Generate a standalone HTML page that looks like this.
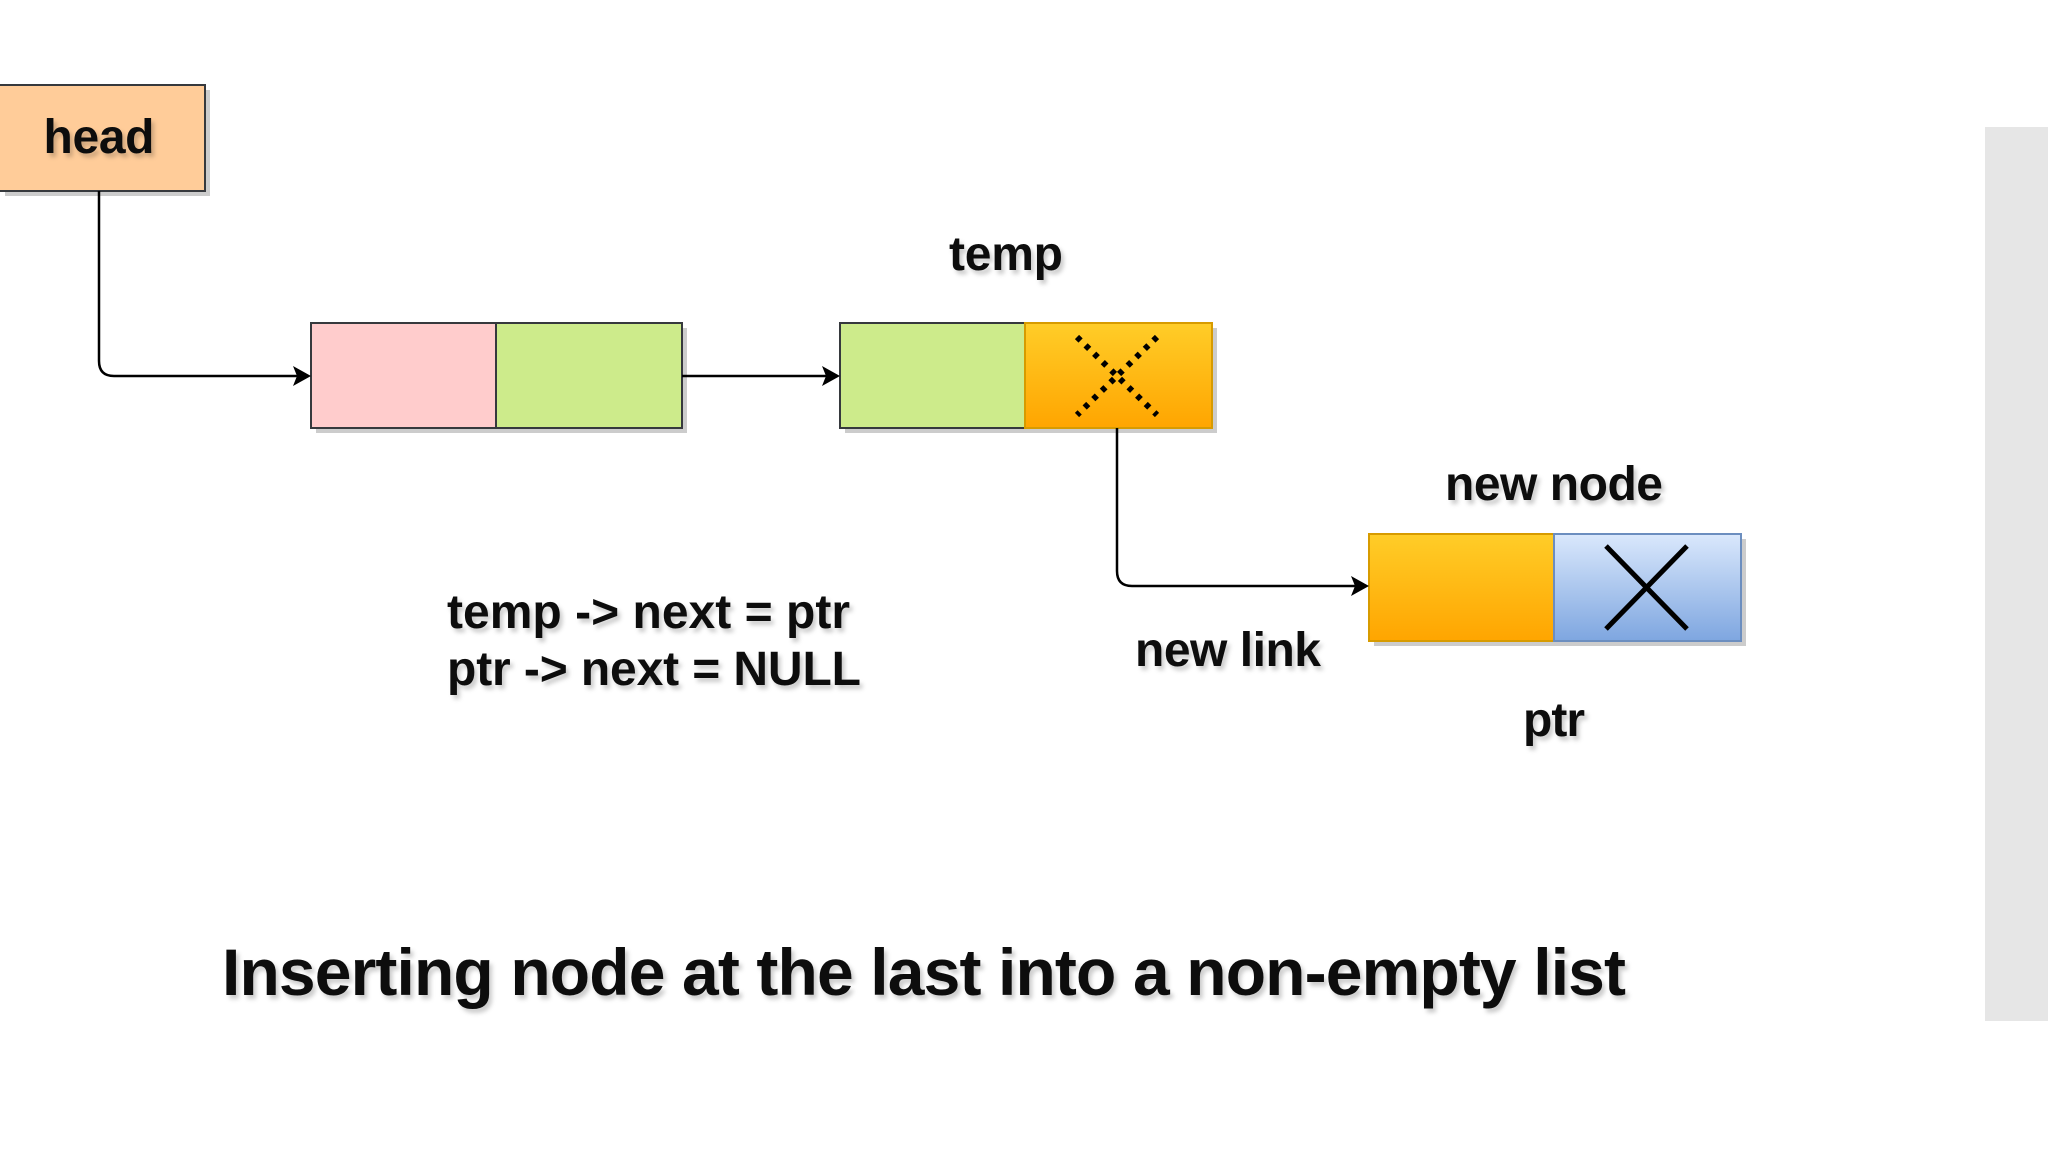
<!DOCTYPE html>
<html><head><meta charset="utf-8"><style>html,body{margin:0;padding:0;background:#fff}svg{display:block}</style></head>
<body>
<svg width="2048" height="1152" viewBox="0 0 2048 1152" xmlns="http://www.w3.org/2000/svg" font-family="Liberation Sans, Arial, sans-serif" font-weight="bold">
<defs>
<linearGradient id="og" x1="0" y1="0" x2="0" y2="1"><stop offset="0" stop-color="#ffcd28"/><stop offset="1" stop-color="#ffa500"/></linearGradient>
<linearGradient id="bg" x1="0" y1="0" x2="0" y2="1"><stop offset="0" stop-color="#dae8fc"/><stop offset="1" stop-color="#7ea6e0"/></linearGradient>
<filter id="ts"><feDropShadow dx="3" dy="4" stdDeviation="2" flood-color="#000" flood-opacity="0.2"/></filter>
</defs>
<rect x="1985" y="127" width="63" height="894" fill="#e6e6e6"/>
<g fill="#000" opacity="0.2">
<rect x="5" y="90" width="205" height="106"/>
<rect x="316" y="328" width="371" height="105"/>
<rect x="845" y="328" width="372" height="105"/>
<rect x="1374" y="539" width="372" height="107"/>
</g>
<rect x="-2" y="85" width="207" height="106" fill="#ffcc99" stroke="#36393d" stroke-width="2"/>
<rect x="311" y="323" width="185" height="105" fill="#ffcccc" stroke="#36393d" stroke-width="2"/>
<rect x="496" y="323" width="186" height="105" fill="#cdeb8b" stroke="#36393d" stroke-width="2"/>
<rect x="840" y="323" width="185" height="105" fill="#cdeb8b" stroke="#36393d" stroke-width="2"/>
<rect x="1025" y="323" width="187" height="105" fill="url(#og)" stroke="#d79b00" stroke-width="2"/>
<rect x="1369" y="534" width="185" height="107" fill="url(#og)" stroke="#d79b00" stroke-width="2"/>
<rect x="1554" y="534" width="187" height="107" fill="url(#bg)" stroke="#6c8ebf" stroke-width="2"/>
<g stroke="#000" stroke-width="6" stroke-dasharray="5 7">
<line x1="1077" y1="337" x2="1157" y2="415"/><line x1="1157" y1="337" x2="1077" y2="415"/>
</g>
<g stroke="#000" stroke-width="5">
<line x1="1606" y1="546" x2="1687" y2="629"/><line x1="1687" y1="546" x2="1606" y2="629"/>
</g>
<g fill="none" stroke="#000" stroke-width="2.5">
<path d="M99 191 V361 Q99 376 114 376 H298"/>
<path d="M682 376 H827"/>
<path d="M1117 428 V571 Q1117 586 1132 586 H1356"/>
</g>
<g fill="#000">
<path d="M311 376 L293 366 L297 376 L293 386Z"/>
<path d="M840 376 L822 366 L826 376 L822 386Z"/>
<path d="M1369 586 L1351 576 L1355 586 L1351 596Z"/>
</g>
<g fill="#111" filter="url(#ts)" font-size="48">
<text x="99" y="153" text-anchor="middle" textLength="111">head</text>
<text x="1006" y="270" text-anchor="middle" textLength="114">temp</text>
<text x="1554" y="500" text-anchor="middle" textLength="218">new node</text>
<text x="1228" y="666" text-anchor="middle" textLength="186">new link</text>
<text x="1554" y="736" text-anchor="middle" textLength="62">ptr</text>
<text x="447" y="628" textLength="403">temp -&gt; next = ptr</text>
<text x="447" y="685" textLength="414">ptr -&gt; next = NULL</text>
<text x="222" y="995" font-size="66" textLength="1404">Inserting node at the last into a non-empty list</text>
</g>
</svg>
</body></html>
